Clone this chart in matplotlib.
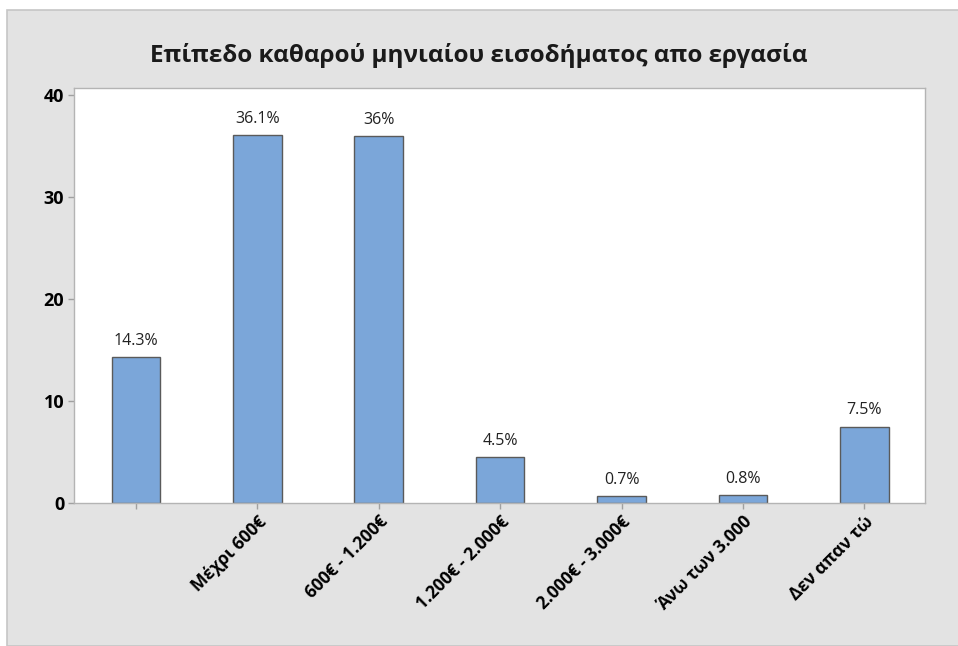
import matplotlib
matplotlib.use("Agg")
import matplotlib.pyplot as plt
from matplotlib.patches import Rectangle

plt.rcParams['font.family'] = ['Open Sans', 'DejaVu Sans']

# Δεδομένα του γραφήματος
κατηγορίες = ["", "Μέχρι 600€", "600€ - 1.200€", "1.200€ - 2.000€",
              "2.000€ - 3.000€", "Άνω των 3.000", "Δεν απαν τώ"]
ποσοστά = [14.3, 36.1, 36.0, 4.5, 0.7, 0.8, 7.5]
ετικέτες = ["14.3%", "36.1%", "36%", "4.5%", "0.7%", "0.8%", "7.5%"]
yticks = [0, 10, 20, 30, 40]

fig = plt.figure(figsize=(9.58, 6.46), dpi=100)
fig.patch.set_facecolor("white")

# γκρι φόντο σαν το Minitab
W, H = 958, 646
fig.patches.append(Rectangle((7 / W, 0), 1, 1 - 10 / H, transform=fig.transFigure,
                             facecolor="#E3E3E3", edgecolor="#C6C6C6", linewidth=1.2, zorder=-5))

ax = fig.add_axes([74 / W, 1 - 503 / H, (925 - 74) / W, (503 - 88) / H])
ax.set_zorder(2)
ax.set_facecolor("white")

x = range(len(κατηγορίες))
ax.bar(x, ποσοστά, width=0.4, color="#7BA6D9", edgecolor="#5A5A5A", linewidth=1.0, zorder=2)

for xi, v, lab in zip(x, ποσοστά, ετικέτες):
    ax.annotate(lab, (xi, v), xytext=(0, 6), textcoords="offset points",
                ha="center", va="bottom", fontsize=11.5, color="#222222")

ax.set_xlim(-0.51, 6.5)
ax.set_ylim(0, 40.7)
ax.set_yticks(yticks)
ax.set_yticklabels([str(t) for t in yticks], fontsize=13, fontweight="bold")
ax.set_xticks(list(x))
ax.set_xticklabels(κατηγορίες, rotation=45, ha="right", rotation_mode="anchor",
                   fontsize=12.5, fontweight="bold")

for s in ax.spines.values():
    s.set_color("#B4B4B4")
    s.set_linewidth(1.0)
ax.tick_params(axis="both", colors="#A0A0A0", length=4, width=1, labelcolor="black")
ax.tick_params(axis="x", pad=3)
ax.tick_params(axis="y", pad=3)

fig.text(0.5, 1 - 55 / H, "Επίπεδο καθαρού μηνιαίου εισοδήματος απο εργασία",
         ha="center", va="center", fontsize=17.5, fontweight="bold", color="#1A1A1A")

fig.savefig("out.png", dpi=100, facecolor=fig.get_facecolor())
